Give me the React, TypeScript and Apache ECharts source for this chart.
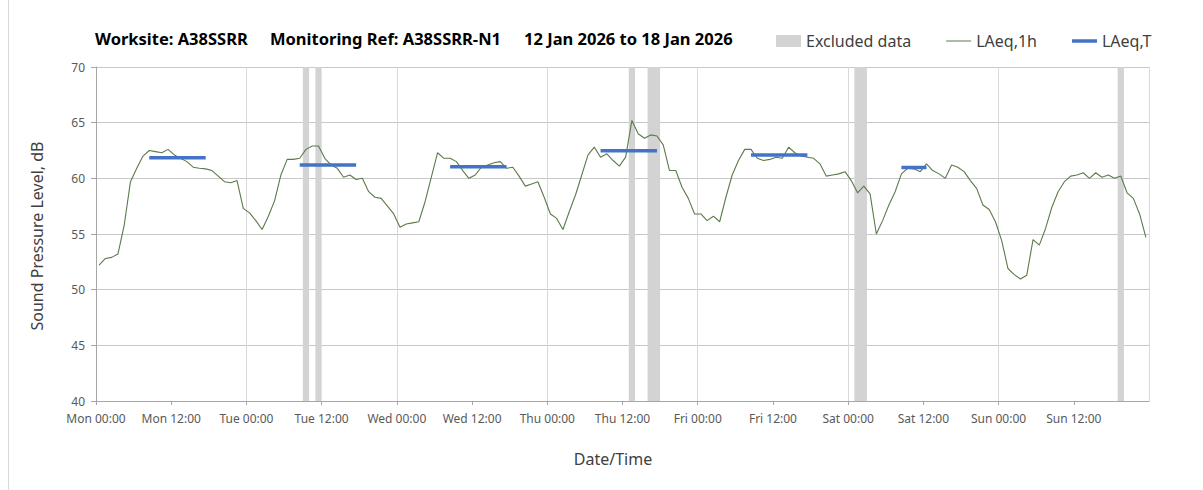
import React, { useEffect, useRef } from "react";
import * as echarts from "echarts";

// Hourly LAeq,1h values (dB), 00:00..23:00 for each day
const mon = [52.2, 52.8, 52.9, 53.2, 55.8, 59.7, 60.9, 62.0, 62.5, 62.4, 62.3, 62.6, 62.1, 61.8, 61.5, 61.0, 60.9, 60.85, 60.7, 60.2, 59.7, 59.6, 59.8, 57.3];
const tue = [56.9, 56.2, 55.4, 56.6, 58.0, 60.3, 61.7, 61.7, 61.8, 62.6, 62.9, 62.9, 61.8, 61.2, 60.9, 60.1, 60.3, 59.9, 60.0, 58.8, 58.3, 58.2, 57.5, 56.8];
const wed = [55.6, 55.9, 56.0, 56.1, 57.9, 60.1, 62.3, 61.8, 61.8, 61.5, 60.7, 60.0, 60.3, 61.0, 61.2, 61.4, 61.5, 60.9, 61.0, 60.2, 59.3, 59.5, 59.7, 58.3];
const thu = [56.8, 56.4, 55.4, 57.0, 58.5, 60.3, 62.1, 62.8, 61.9, 62.2, 61.6, 61.1, 61.9, 65.2, 64.0, 63.6, 63.9, 63.8, 63.0, 60.7, 60.7, 59.2, 58.2, 56.8];
const fri = [56.8, 56.2, 56.6, 56.1, 58.3, 60.3, 61.6, 62.6, 62.6, 61.8, 61.6, 61.7, 61.9, 61.8, 62.8, 62.3, 62.0, 61.9, 61.8, 61.3, 60.2, 60.3, 60.4, 60.6];
const sat = [59.8, 58.7, 59.3, 58.6, 55.0, 56.2, 57.6, 58.8, 60.4, 60.9, 60.85, 60.6, 61.3, 60.7, 60.4, 60.0, 61.2, 61.0, 60.6, 59.8, 59.1, 57.6, 57.2, 56.1];
const sun = [54.4, 51.9, 51.35, 50.96, 51.3, 54.5, 54.0, 55.5, 57.4, 58.8, 59.7, 60.2, 60.3, 60.5, 60.0, 60.5, 60.1, 60.3, 60.0, 60.2, 58.7, 58.2, 56.8, 54.7];

// LAeq,T periods: start hour, end hour (inclusive hourly slots), level
const periodStart = [8, 32, 56, 80, 104, 128];
const periodEnd = [17, 41, 65, 89, 113, 132];
const periodLevel = [61.85, 61.2, 61.03, 62.47, 62.1, 60.97];

// Excluded hourly slots (hours from Mon 00:00)
const excludedHours = [33, 35, 85, 88, 89, 121, 122, 163];

// Tick labels every 12 hours
const tickLabels = [
  "Mon 00:00", "Mon 12:00", "Tue 00:00", "Tue 12:00", "Wed 00:00", "Wed 12:00", "Thu 00:00",
  "Thu 12:00", "Fri 00:00", "Fri 12:00", "Sat 00:00", "Sat 12:00", "Sun 00:00", "Sun 12:00",
];

const titleParts = ["Worksite: A38SSRR", "Monitoring Ref: A38SSRR-N1", "12 Jan 2026 to 18 Jan 2026"];

const FONT = "'Noto Sans', 'Open Sans', sans-serif";
const GREEN = "#5b7b4a";
const BLUE = "#4472c4";
const GREY = "#d3d3d3";

export default function App() {
  const ref = useRef<HTMLDivElement>(null);

  useEffect(() => {
    if (!ref.current) return;
    const chart = echarts.init(ref.current, undefined, { renderer: "svg" });
    const hourly = [...mon, ...tue, ...wed, ...thu, ...fri, ...sat, ...sun];
    const lineData = hourly.map((v, i) => [i + 0.5, v]);

    // merge contiguous excluded hours into runs
    const runs: number[][] = [];
    excludedHours.forEach((h) => {
      const last = runs[runs.length - 1];
      if (last && last[1] === h) last[1] = h + 1;
      else runs.push([h, h + 1]);
    });

    const tSeries = periodStart.map((s, k) => ({
      name: "LAeq,T",
      type: "line",
      data: [
        [s + 0.5, periodLevel[k]],
        [periodEnd[k] + 0.5, periodLevel[k]],
      ],
      symbol: "none",
      lineStyle: { color: BLUE, width: 3.5 },
      itemStyle: { color: BLUE },
      z: 4,
      silent: true,
    }));

    const option: any = {
      animation: false,
      textStyle: { fontFamily: FONT },
      grid: { left: 96, right: 54, top: 67, bottom: 89, containLabel: false },
      legend: {
        left: 776,
        top: 33,
        padding: 0,
        itemWidth: 25,
        itemHeight: 12,
        itemGap: 35,
        textStyle: { fontSize: 16, color: "#404040", fontFamily: FONT },
        data: [
          { name: "Excluded data", icon: "rect", itemStyle: { color: GREY } },
          { name: "LAeq,1h", icon: "path://M0,0H25V1H0Z", itemStyle: { color: GREEN } },
          { name: "LAeq,T", icon: "path://M0,0H25V3.5H0Z", itemStyle: { color: BLUE } },
        ],
      },
      xAxis: [
        {
          type: "value",
          min: 0,
          max: 168,
          interval: 12,
          axisLine: { show: true, lineStyle: { color: "#a6a6a6" } },
          axisTick: { show: true, length: 4, lineStyle: { color: "#a6a6a6" } },
          splitLine: { show: false },
          axisLabel: {
            fontSize: 12,
            color: "#595959",
            margin: 11,
            fontFamily: FONT,
            showMaxLabel: false,
            formatter: (v: number) => tickLabels[Math.round(v / 12)] ?? "",
          },
        },
        {
          type: "value",
          min: 0,
          max: 168,
          interval: 24,
          position: "bottom",
          axisLine: { show: false },
          axisTick: { show: false },
          axisLabel: { show: false },
          splitLine: { show: true, lineStyle: { color: "#d9d9d9", width: 1 } },
        },
      ],
      yAxis: {
        type: "value",
        min: 40,
        max: 70,
        interval: 5,
        axisLine: { show: true, lineStyle: { color: "#a6a6a6" } },
        axisTick: { show: true, length: 5, lineStyle: { color: "#a6a6a6" } },
        axisLabel: { fontSize: 12, color: "#595959", margin: 11, fontFamily: FONT },
        splitLine: { show: true, lineStyle: { color: "#c8c8c8", width: 1 } },
      },
      series: [
        {
          name: "Excluded data",
          type: "line",
          data: [],
          symbol: "none",
          itemStyle: { color: GREY },
          lineStyle: { color: GREY },
          z: 1,
          markArea: {
            silent: true,
            itemStyle: { color: GREY, opacity: 1 },
            data: runs.map((r) => [{ xAxis: r[0] }, { xAxis: r[1] }]),
          },
        },
        {
          name: "LAeq,1h",
          type: "line",
          data: lineData,
          symbol: "none",
          lineStyle: { color: GREEN, width: 1.1 },
          itemStyle: { color: GREEN },
          z: 3,
          silent: true,
        },
        ...tSeries,
      ],
      graphic: [
        { type: "line", shape: { x1: 8.5, y1: 0, x2: 8.5, y2: 490 }, style: { stroke: "#d9d9d9", lineWidth: 1 } },
        ...titleParts.map((t, k) => ({
          type: "text",
          x: [95, 270, 524][k],
          y: 38,
          style: {
            text: t,
            fontSize: 16.5,
            fontWeight: "bold",
            fill: "#000000",
            fontFamily: FONT,
            verticalAlign: "middle",
          },
        })),
        {
          type: "text",
          x: 613,
          y: 459,
          style: {
            text: "Date/Time",
            fontSize: 16,
            fill: "#404040",
            fontFamily: FONT,
            align: "center",
            verticalAlign: "middle",
          },
        },
        {
          type: "text",
          x: 37,
          y: 236,
          rotation: Math.PI / 2,
          style: {
            text: "Sound Pressure Level, dB",
            fontSize: 16,
            fill: "#404040",
            fontFamily: FONT,
            align: "center",
            verticalAlign: "middle",
          },
        },
      ],
    };
    chart.setOption(option);
    return () => chart.dispose();
  }, []);

  return (
    <div
      ref={ref}
      style={{ position: "fixed", left: 0, top: 0, width: 1203, height: 490, background: "#ffffff" }}
    />
  );
}
